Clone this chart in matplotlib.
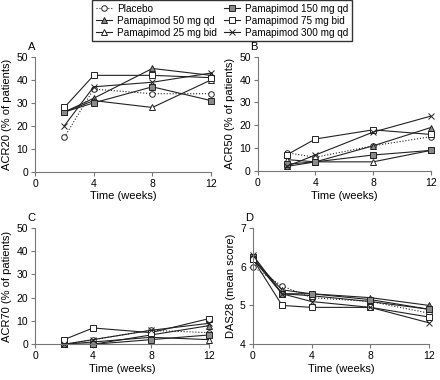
import numpy as np
import matplotlib
matplotlib.use("Agg")
import matplotlib.pyplot as plt

plt.rcParams['font.family'] = ['Liberation Sans', 'DejaVu Sans']

weeks = [2, 4, 8, 12]
weeks_das = [0, 2, 4, 8, 12]

groups = ["Placebo", "Pamapimod 50 mg qd", "Pamapimod 25 mg bid",
          "Pamapimod 150 mg qd", "Pamapimod 75 mg bid", "Pamapimod 300 mg qd"]

acr20 = [[15, 36, 34, 34],
         [26, 32, 45, 42],
         [26, 31, 28, 40],
         [26, 30, 37, 31],
         [28, 42, 42, 41],
         [20, 37, 39, 43]]
acr50 = [[8, 6, 11, 15],
         [2, 4, 11, 19],
         [5, 4, 4, 9],
         [3, 4, 7, 9],
         [7, 14, 18, 16],
         [2, 7, 17, 24]]
acr70 = [[0, 2, 6, 5],
         [0, 0, 4, 8],
         [0, 1, 3, 2],
         [0, 0, 2, 4],
         [2, 7, 5, 11],
         [0, 2, 6, 9]]
das28 = [[6.0, 5.5, 5.2, 5.1, 4.8],
         [6.2, 5.4, 5.3, 5.2, 5.0],
         [6.2, 5.3, 5.25, 5.1, 4.9],
         [6.25, 5.3, 5.3, 5.15, 4.9],
         [6.2, 5.0, 4.95, 4.95, 4.7],
         [6.3, 5.3, 5.1, 4.95, 4.55]]

# marker style per group: (marker, facecolor, linestyle, size)
styles = [('o', 'white', ':', 4),
          ('^', '#8a8a8a', '-', 4.5),
          ('^', 'white', '-', 4.5),
          ('s', '#8a8a8a', '-', 4),
          ('s', 'white', '-', 4),
          ('x', 'none', '-', 5)]

W, H = 440, 380
fig = plt.figure(figsize=(W / 100, H / 100), dpi=100)

def box(left, right, top, bottom):
    return [left / W, 1 - bottom / H, (right - left) / W, (bottom - top) / H]

grey = '#777777'

def draw(ax, x, data, ylim, yticks, ylabel, letter):
    for vals, (m, fc, ls, ms) in zip(data, styles):
        ax.plot(x, vals, linestyle=ls, color='#222222', lw=0.8,
                marker=m, ms=ms, mfc=fc, mec='#222222', mew=0.7, clip_on=False)
    ax.set_xlim(0, 12)
    ax.set_ylim(*ylim)
    ax.set_xticks([0, 4, 8, 12])
    ax.set_yticks(yticks)
    ax.spines['top'].set_visible(False)
    ax.spines['right'].set_visible(False)
    for s in ('left', 'bottom'):
        ax.spines[s].set_color(grey)
        ax.spines[s].set_linewidth(0.8)
    ax.tick_params(direction='out', length=3, width=0.8, color=grey,
                   labelsize=7.5, pad=2)
    ax.set_xlabel("Time (weeks)", fontsize=8, labelpad=2)
    ax.set_ylabel(ylabel, fontsize=8, labelpad=3)
    ax.text(0.0, 1.04, letter, transform=ax.transAxes, fontsize=8,
            ha='right', va='bottom')

axA = fig.add_axes(box(35, 211, 57, 171.7))
draw(axA, weeks, acr20, (0, 50), range(0, 51, 10), "ACR20 (% of patients)", "A")
axB = fig.add_axes(box(257.7, 430.7, 56.7, 171))
draw(axB, weeks, acr50, (0, 50), range(0, 51, 10), "ACR50 (% of patients)", "B")
axC = fig.add_axes(box(35, 209, 227.7, 344.3))
draw(axC, weeks, acr70, (0, 50), range(0, 51, 10), "ACR70 (% of patients)", "C")
axD = fig.add_axes(box(252.7, 429.3, 227.7, 344.3))
draw(axD, weeks_das, das28, (4, 7), [4, 5, 6, 7], "DAS28 (mean score)", "D")

handles = []
for name, (m, fc, ls, ms) in zip(groups, styles):
    h, = axA.plot([], [], linestyle=ls, color='#222222', lw=0.8, marker=m,
                  ms=ms, mfc=fc, mec='#222222', mew=0.7, label=name)
    handles.append(h)
leg = fig.legend(handles=handles, loc='upper center', bbox_to_anchor=(222 / W, 1.0),
                 ncol=2, fontsize=7.2, frameon=True, fancybox=False,
                 handlelength=1.6, handletextpad=0.5, columnspacing=0.7,
                 labelspacing=0.2, borderpad=0.35, borderaxespad=0)
leg.get_frame().set_edgecolor('black')
leg.get_frame().set_linewidth(1.0)

fig.savefig("out.png", dpi=100)
